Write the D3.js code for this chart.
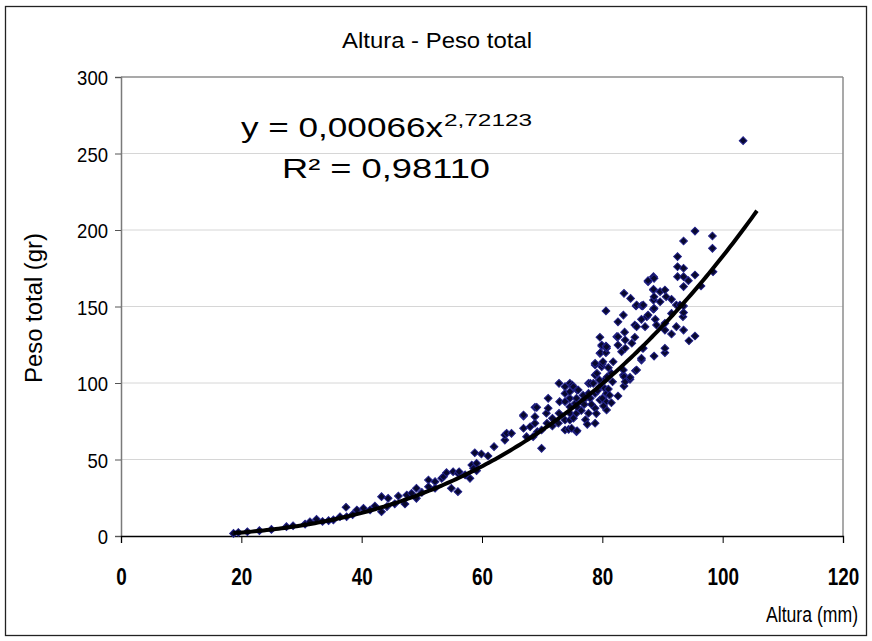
<!DOCTYPE html>
<html>
<head>
<meta charset="utf-8">
<script src="https://cdn.jsdelivr.net/npm/d3@7"></script>
<style>
  body { margin: 0; background: #fff; }
  text { font-family: Arial, "Liberation Sans", sans-serif; fill: #000; }
</style>
</head>
<body>
<div id="chart"></div>
<script>
// altura (mm) / peso total (gr), pairwise
var altura = [18.7,19.5,21,23,25,27.5,28.6,30.6,31.4,32.5,33.5,34.5,35.3,36.4,37.4,37.5,38.5,39.2,40.3,41.4,
  42.2,43.3,43.3,44.2,44.4,45.5,46.1,47.2,47.5,48.3,49.1,49.1,50,51.1,51.1,52.2,52.2,53.3,53.6,54.1,
  54.9,55.2,56,56,56.2,57.2,58,58.3,58.6,58.8,59.1,59.1,59.9,61,62,63.8,63.8,64.1,64.9,66.9,
  66.9,66.9,67.4,68,68.5,68.8,68.8,68.8,69.1,69.2,69.9,69.9,70.7,70.8,71,71,71.7,71.7,72.7,72.8,
  72.8,72.9,73.8,73.8,73.8,73.8,73.8,74.4,74.6,74.6,74.6,74.6,74.6,74.6,74.9,75,75.2,75.5,75.7,75.7,
  75.7,75.8,75.8,76,76,76.9,77.7,77.7,77.7,78,78.5,78.8,78.8,78.8,78.8,78.8,78.8,79.1,79.6,79.6,
  79.6,79.6,79.7,79.9,79.9,79.9,80,80.1,80.4,80.4,80.6,80.6,80.6,80.6,80.7,80.7,80.7,80.7,81.5,81.5,
  81.7,81.8,82.4,82.6,82.6,82.6,82.6,83.2,83.5,83.5,83.5,83.6,83.6,83.6,83.7,83.8,83.8,83.8,84.6,84.6,
  84.7,84.9,85.4,85.4,85.5,85.6,85.7,85.7,85.7,86.5,86.5,86.5,86.5,86.7,86.7,86.8,86.8,87.1,87.4,87.6,
  87.6,87.6,88.5,88.5,88.5,88.5,88.5,88.6,88.6,88.6,88.6,88.8,89,89.6,89.6,90.4,90.4,90.4,90.4,90.4,
  90.6,91.5,91.5,91.5,92.3,92.3,92.5,92.5,92.5,92.9,93.4,93.5,93.5,93.5,93.5,93.5,93.5,93.5,94.3,94.4,
  95.4,95.4,95.4,96.4,98.3,98.3,98.4,103.4,
  76.5,77,77.2,78,78.2,79,79.2,80,80.2,81,81.2,77.5,76.8,75.2,79.5,80.8,81];
var peso = [1.7,2.3,2.8,3.5,4.3,6.1,6.7,7.8,9.3,10.9,9.5,10,10.5,12.6,18.8,12.6,14,17,18.1,17,
  19.6,15.9,25.7,19.2,24.6,21,26.1,20.9,26.8,27.9,31.2,24.6,28.5,36.6,32.2,35.5,31.2,37.7,38.8,41.4,
  31.2,42,29,41,42,39.9,37.7,46.4,44.2,54.4,47.5,42.7,53.6,52.3,58.4,62.7,66,67.1,67.1,70.4,
  78.4,79.1,64.9,71.4,64.9,73.7,78,84.1,84.1,68.2,69.3,57.3,80.2,73.7,83.5,90,71.9,76.9,73.7,80.2,
  99.8,87.8,69.3,75.8,87.8,93.2,97.6,69.7,75.8,80.2,84.5,90,94.3,99.8,70.4,98.7,97.6,86.7,68.2,80.2,
  90,68.8,95.4,83.5,95.4,88.9,80.2,93.2,99.8,99.8,99.8,73.7,83.5,93.2,105.2,111.8,112.9,106.3,88.9,97.6,
  119.4,129.9,119.8,110.7,124.2,124.8,112.4,113.9,96.5,102,87.8,119.8,124.2,147.1,82.4,93.2,122.7,123.7,87.1,106.3,
  100.8,113.9,130.3,91.5,124.8,130.3,140,120.5,105.2,108.5,144.4,98,104.1,158.6,133.2,100.8,122.7,128.1,102.4,103.7,
  155.3,126,129.9,137.9,108,150.3,108.5,136.8,151,115,116.1,141.6,150.5,122.7,150.3,122.7,151,136.8,143.3,144.4,
  166.2,166.9,148.2,154.2,160.8,161.2,169.5,117.6,148.8,156.4,168.4,141.6,137.9,153.1,159.7,119.8,122.7,134.6,139,160.8,
  156.4,132,145.5,154.7,136.8,151,169.5,176,182.6,151,143.3,134.6,146,150.3,163,169.5,175,192.8,166.9,127.6,
  130.7,170.6,199.3,163.4,188,196.1,172.7,258.4,
  82,86,76,90,86,80,95,90,85,96,92,73,92,77,102,104,110];

var xTicks = [0, 20, 40, 60, 80, 100, 120];
var yTicks = [0, 50, 100, 150, 200, 250, 300];
var fitCoef = [0.00066, 2.72123];   // y = a * x^b
var fitRange = [18.7, 106];

var width = 872, height = 641;

var svg = d3.select("#chart").append("svg")
            .attr("width", width)
            .attr("height", height);

// outer frame
svg.append("rect")
   .attr("x", 5.5).attr("y", 6.5)
   .attr("width", 861).attr("height", 629)
   .attr("fill", "#fff")
   .attr("stroke", "#222")
   .attr("stroke-width", 1.3);

var x = d3.scaleLinear().domain([0, 120]).range([121, 843]);
var y = d3.scaleLinear().domain([0, 300]).range([536, 77]);

// gridlines
svg.append("g").selectAll("line")
   .data(yTicks.filter(function(d) { return d > 0 && d < 300; }))
   .enter().append("line")
   .attr("x1", x(0)).attr("x2", x(120))
   .attr("y1", function(d) { return y(d); })
   .attr("y2", function(d) { return y(d); })
   .attr("stroke", "#d6d6d6")
   .attr("stroke-width", 1);

// plot border top / right
svg.append("line").attr("x1", x(0)).attr("x2", x(120)).attr("y1", y(300)).attr("y2", y(300))
   .attr("stroke", "#8c8c8c").attr("stroke-width", 1.5);
svg.append("line").attr("x1", x(120)).attr("x2", x(120)).attr("y1", y(300)).attr("y2", y(0))
   .attr("stroke", "#8c8c8c").attr("stroke-width", 1.5);

// y axis
var yAxis = svg.append("g")
   .attr("transform", "translate(" + x(0) + ",0)")
   .call(d3.axisLeft(y).tickValues(yTicks).tickSize(6).tickFormat(d3.format("d")));
yAxis.select(".domain").attr("stroke", "#7a7a7a").attr("stroke-width", 1.5);
yAxis.selectAll(".tick line").attr("stroke", "#555");
yAxis.selectAll(".tick text")
     .attr("x", -13)
     .attr("dy", "0.36em")
     .style("font-size", "21px")
     .style("font-family", "Arial, 'Liberation Sans', sans-serif")
     .attr("fill", "#000")
     .attr("textLength", function(d) { return String(d).length * 10.3; })
     .attr("lengthAdjust", "spacingAndGlyphs");

// x axis
var xAxis = svg.append("g")
   .attr("transform", "translate(0," + y(0) + ")")
   .call(d3.axisBottom(x).tickValues(xTicks).tickSize(7).tickFormat(d3.format("d")));
xAxis.select(".domain").attr("stroke", "#000").attr("stroke-width", 1.3);
xAxis.selectAll(".tick line").attr("stroke", "#000");
xAxis.selectAll(".tick text")
     .attr("y", 49)
     .attr("dy", null)
     .style("font-size", "24px")
     .style("font-weight", "bold")
     .style("font-family", "Arial, 'Liberation Sans', sans-serif")
     .attr("fill", "#000")
     .attr("textLength", function(d) { return String(d).length * 10.5; })
     .attr("lengthAdjust", "spacingAndGlyphs");

// points
var points = altura.map(function(a, i) { return {x: a, y: peso[i]}; });
svg.append("g").selectAll("path")
   .data(points)
   .enter().append("path")
   .attr("d", d3.symbol().type(d3.symbolSquare).size(30))
   .attr("transform", function(d) { return "translate(" + x(d.x) + "," + y(d.y) + ") rotate(45)"; })
   .attr("fill", "#08082e")
   .attr("stroke", "#22228a")
   .attr("stroke-width", 1);

// power trendline
var fitX = d3.range(fitRange[0], fitRange[1] + 0.01, 0.5);
var line = d3.line()
   .x(function(d) { return x(d); })
   .y(function(d) { return y(fitCoef[0] * Math.pow(d, fitCoef[1])); });
svg.append("path")
   .datum(fitX)
   .attr("d", line)
   .attr("fill", "none")
   .attr("stroke", "#000")
   .attr("stroke-width", 4);

// title
svg.append("text")
   .attr("x", 437).attr("y", 48)
   .attr("text-anchor", "middle")
   .style("font-size", "22px")
   .attr("textLength", 190)
   .attr("lengthAdjust", "spacingAndGlyphs")
   .text("Altura - Peso total");

// axis titles
svg.append("text")
   .attr("x", 858).attr("y", 622)
   .attr("text-anchor", "end")
   .style("font-size", "22px")
   .attr("textLength", 92)
   .attr("lengthAdjust", "spacingAndGlyphs")
   .text("Altura (mm)");

svg.append("text")
   .attr("transform", "translate(42,308) rotate(-90)")
   .attr("text-anchor", "middle")
   .style("font-size", "23px")
   .attr("textLength", 150)
   .attr("lengthAdjust", "spacingAndGlyphs")
   .text("Peso total (gr)");

// equation
var eq = svg.append("text")
   .attr("x", 241).attr("y", 137)
   .style("font-size", "28px");
eq.append("tspan")
  .attr("textLength", 202)
  .attr("lengthAdjust", "spacingAndGlyphs")
  .text("y = 0,00066x");
eq.append("tspan")
  .attr("x", 444).attr("y", 126)
  .style("font-size", "16px")
  .attr("textLength", 88)
  .attr("lengthAdjust", "spacingAndGlyphs")
  .text("2,72123");

svg.append("text")
   .attr("x", 282).attr("y", 178)
   .style("font-size", "28px")
   .attr("textLength", 208)
   .attr("lengthAdjust", "spacingAndGlyphs")
   .text("R² = 0,98110");
</script>
</body>
</html>
